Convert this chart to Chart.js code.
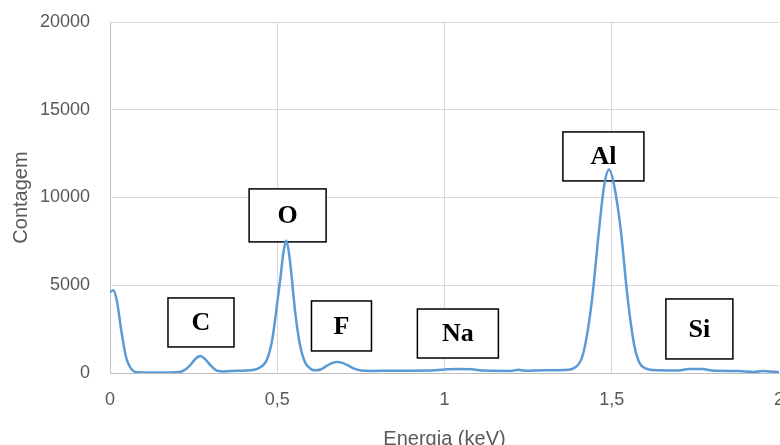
<!DOCTYPE html>
<html>
<head>
<meta charset="utf-8">
<script src="https://cdn.jsdelivr.net/npm/chart.js@4.4.0/dist/chart.umd.min.js"></script>
<style>
  html, body { margin:0; padding:0; background:#fff; overflow:hidden; }
  #wrap { position:relative; width:790px; height:445px; }
</style>
</head>
<body>
<div id="wrap"><canvas id="chartEds" width="790" height="445"></canvas></div>
<script>
const energia = [0, 0.01, 0.02, 0.035, 0.048, 0.06, 0.08, 0.12, 0.16, 0.2,
  0.22, 0.24, 0.255, 0.27, 0.285, 0.3, 0.32, 0.34, 0.38, 0.42,
  0.44, 0.458, 0.47, 0.484, 0.492, 0.5, 0.51, 0.518, 0.527, 0.536,
  0.544, 0.554, 0.569, 0.582, 0.594, 0.61, 0.63, 0.65, 0.665, 0.68,
  0.695, 0.71, 0.73, 0.75, 0.78, 0.85, 0.95, 1.0, 1.04, 1.08,
  1.12, 1.2, 1.22, 1.24, 1.3, 1.36, 1.387, 1.412, 1.428, 1.442,
  1.462, 1.477, 1.492, 1.507, 1.527, 1.547, 1.567, 1.58, 1.592, 1.61,
  1.64, 1.7, 1.73, 1.77, 1.8, 1.88, 1.925, 1.95, 2];
const contagem = [4600, 4720, 4160, 2280, 900, 340, 40, 30, 30, 40,
  130, 450, 800, 970, 780, 450, 130, 90, 130, 150,
  230, 450, 800, 1800, 2800, 4000, 5500, 6800, 7550, 6700,
  5300, 3400, 1500, 650, 330, 150, 200, 430, 580, 630,
  580, 450, 250, 140, 120, 130, 140, 200, 230, 210,
  140, 120, 180, 130, 150, 170, 280, 930, 2400, 4350,
  8150, 10650, 11600, 10700, 8150, 4350, 1600, 700, 360, 200,
  150, 140, 230, 230, 140, 110, 60, 110, 40];

const xTicks = [0, 0.5, 1, 1.5, 2];
const yTicks = [0, 5000, 10000, 15000, 20000];

const elementos = ['C', 'O', 'F', 'Na', 'Al', 'Si'];
const picoEnergia = [0.272, 0.531, 0.692, 1.04, 1.475, 1.762];
const picoContagem = [2880, 8980, 2680, 2250, 12340, 2510];

/* caixas dos rótulos (tamanho em px) */
const caixas = [
  { w: 66, h: 49 }, { w: 77, h: 53 }, { w: 60, h: 50 },
  { w: 81, h: 49 }, { w: 81, h: 49 }, { w: 67, h: 60 }
];

const corTexto = '#595959';
const corGrade = '#d9d9d9';
const fonteEixo = '"Liberation Sans", Arial, sans-serif';

/* ===== plugin: caixas com o nome dos elementos ===== */
const rotulosPlugin = {
  id: 'rotulos',
  beforeDatasetsDraw(chart) {
    const { ctx, scales } = chart;
    ctx.save();
    elementos.forEach((nome, i) => {
      const cx = scales.x.getPixelForValue(picoEnergia[i]);
      const cy = scales.y.getPixelForValue(picoContagem[i]);
      const b = caixas[i];
      ctx.fillStyle = '#fff';
      ctx.fillRect(cx - b.w / 2, cy - b.h / 2, b.w, b.h);
      ctx.lineWidth = 1.5;
      ctx.strokeStyle = '#000';
      ctx.strokeRect(cx - b.w / 2, cy - b.h / 2, b.w, b.h);
      ctx.fillStyle = '#000';
      ctx.font = 'bold 26px "Liberation Serif", "Times New Roman", serif';
      ctx.textAlign = 'center';
      ctx.textBaseline = 'middle';
      ctx.fillText(nome, cx, cy + 1);
    });
    ctx.restore();
  }
};

const ctx = document.getElementById('chartEds').getContext('2d');
const chart = new Chart(ctx, {
  type: 'line',
  data: {
    datasets: [{
      label: 'Contagem',
      data: energia.map((e, i) => ({ x: e, y: contagem[i] })),
      borderColor: '#5b9bd5',
      borderWidth: 2.5,
      pointRadius: 0,
      fill: false,
      cubicInterpolationMode: 'monotone'
    }]
  },
  options: {
    responsive: false,
    animation: false,
    layout: { padding: { top: 22, right: 11, left: 0, bottom: 0 } },
    plugins: { legend: { display: false }, tooltip: { enabled: false } },
    scales: {
      x: {
        type: 'linear',
        min: 0, max: 2,
        afterBuildTicks: s => { s.ticks = xTicks.map(v => ({ value: v })); },
        afterFit: s => { s.height = 72; s.paddingLeft = 0; s.paddingRight = 0; },
        ticks: {
          color: corTexto,
          padding: 16,
          font: { family: fonteEixo, size: 18 },
          callback: v => String(v).replace('.', ',')
        },
        grid: {
          drawTicks: false,
          color: c => (c.tick && c.tick.value === 2) ? 'rgba(0,0,0,0)' : corGrade
        },
        border: { color: '#bfbfbf' },
        title: {
          display: true,
          text: 'Energia (keV)',
          color: corTexto,
          padding: { top: 0, bottom: 0 },
          font: { family: fonteEixo, size: 20, lineHeight: 0.6 }
        }
      },
      y: {
        min: 0, max: 20000,
        afterBuildTicks: s => { s.ticks = yTicks.map(v => ({ value: v })); },
        afterFit: s => { s.width = 110; s.paddingTop = 0; s.paddingBottom = 0; },
        ticks: {
          color: corTexto,
          padding: 20,
          font: { family: fonteEixo, size: 18 },
          callback: v => String(v)
        },
        grid: { drawTicks: false, color: corGrade },
        border: { color: '#bfbfbf' },
        title: {
          display: true,
          text: 'Contagem',
          color: corTexto,
          padding: { top: 11, bottom: 0 },
          font: { family: fonteEixo, size: 20, lineHeight: 1 }
        }
      }
    }
  },
  plugins: [rotulosPlugin]
});
</script>
</body>
</html>
